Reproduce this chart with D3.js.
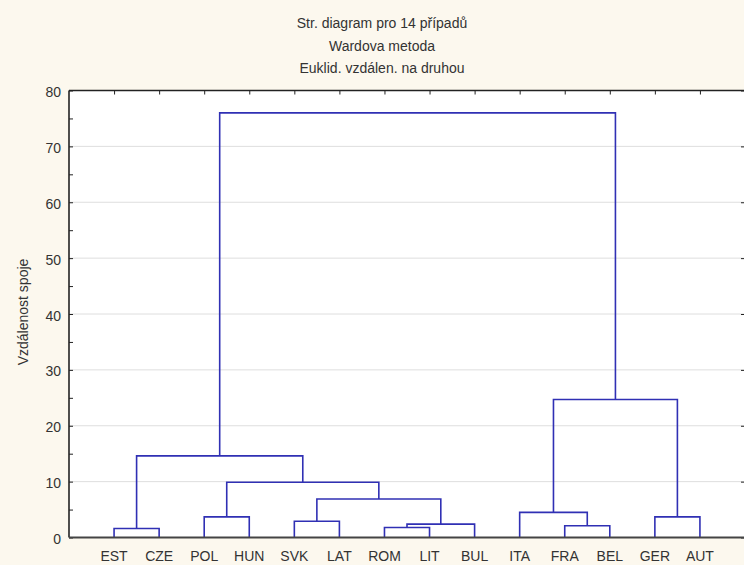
<!DOCTYPE html>
<html>
<head>
<meta charset="utf-8">
<script src="https://cdn.jsdelivr.net/npm/d3@7"></script>
<style>
  html, body { margin: 0; padding: 0; background: #fcf8ee; }
  svg { display: block; }
  text { font-family: "Liberation Sans", Arial, sans-serif; fill: #333; }
</style>
</head>
<body>
<svg id="chart" width="744" height="565"></svg>
<script>
// Leaves of the tree in drawing order
const leaves = ["EST", "CZE", "POL", "HUN", "SVK", "LAT", "ROM", "LIT", "BUL", "ITA", "FRA", "BEL", "GER", "AUT"];

// Agglomeration steps: ids 0..13 are leaves, step k creates cluster id 14 + k
const mergeLeft   = [0, 6, 10, 15, 4, 2, 12, 9, 18, 19, 14, 21, 24];
const mergeRight  = [1, 7, 11, 8, 5, 3, 13, 16, 17, 22, 23, 20, 25];
const mergeHeight = [1.6, 1.8, 2.1, 2.4, 2.9, 3.7, 3.7, 4.5, 6.9, 9.9, 14.6, 24.7, 76.0];

const yTicks = [0, 10, 20, 30, 40, 50, 60, 70, 80];
const yMinorTicks = [5, 15, 25, 35, 45, 55, 65, 75];

const titleLines = ["Str. diagram pro 14 případů", "Wardova metoda", "Euklid. vzdálen. na druhou"];
const yTitle = "Vzdálenost spoje";

const svg = d3.select("#chart");
const plotLeft = 69, plotRight = 745, plotTop = 90.5, plotBottom = 537.5;

const x = d3.scaleLinear().domain([0, leaves.length + 1]).range([plotLeft, plotRight]);
const y = d3.scaleLinear().domain([0, 80]).range([plotBottom, plotTop]);

// plot area
svg.append("rect")
  .attr("x", plotLeft).attr("y", plotTop)
  .attr("width", plotRight - plotLeft).attr("height", plotBottom - plotTop)
  .attr("fill", "#ffffff");

// horizontal grid
svg.append("g").selectAll("line")
  .data(yTicks.filter(d => d > 0 && d < 80))
  .join("line")
  .attr("x1", plotLeft).attr("x2", plotRight)
  .attr("y1", d => y(d)).attr("y2", d => y(d))
  .attr("stroke", "#dedede").attr("stroke-width", 1);

// cluster positions
const pos = leaves.map((d, i) => i + 1);
const hgt = leaves.map(() => 0);
const links = [];
mergeLeft.forEach((a, k) => {
  const b = mergeRight[k], h = mergeHeight[k];
  links.push({ a, b, h });
  pos.push((pos[a] + pos[b]) / 2);
  hgt.push(h);
});

svg.append("g").selectAll("path")
  .data(links)
  .join("path")
  .attr("d", d => `M${x(pos[d.a])},${y(hgt[d.a])}V${y(d.h)}H${x(pos[d.b])}V${y(hgt[d.b])}`)
  .attr("fill", "none")
  .attr("stroke", "#3030b4")
  .attr("stroke-width", 1.6);

// left axis
const yAxis = d3.axisRight(y).tickValues(yTicks.concat(yMinorTicks)).tickSize(4).tickFormat("");
const gy = svg.append("g").attr("transform", `translate(${plotLeft},0)`).call(yAxis);
gy.select(".domain").remove();
gy.selectAll(".tick line").attr("stroke", "#222").attr("stroke-width", 1);

svg.append("g").selectAll("text")
  .data(yTicks)
  .join("text")
  .attr("x", plotLeft - 8)
  .attr("y", d => y(d) + 6.5)
  .attr("text-anchor", "end")
  .attr("font-size", 14)
  .text(d => d);

// right axis ticks
const yAxisR = d3.axisLeft(y).tickValues(yTicks).tickSize(3).tickFormat("");
const gyr = svg.append("g").attr("transform", `translate(${plotRight - 1},0)`).call(yAxisR);
gyr.select(".domain").remove();
gyr.selectAll(".tick line").attr("stroke", "#222");

// top axis ticks at leaf positions
const xAxisTop = d3.axisBottom(x).tickValues(pos.slice(0, leaves.length)).tickSize(4).tickFormat("");
const gxt = svg.append("g").attr("transform", `translate(0,${plotTop})`).call(xAxisTop);
gxt.select(".domain").remove();
gxt.selectAll(".tick line").attr("stroke", "#222");

// frame
svg.append("line").attr("x1", plotLeft).attr("x2", plotRight).attr("y1", plotTop).attr("y2", plotTop)
  .attr("stroke", "#222").attr("stroke-width", 1.5);
svg.append("line").attr("x1", plotLeft).attr("x2", plotLeft).attr("y1", plotTop).attr("y2", plotBottom)
  .attr("stroke", "#222").attr("stroke-width", 1.6);
svg.append("line").attr("x1", plotLeft).attr("x2", plotRight).attr("y1", plotBottom).attr("y2", plotBottom)
  .attr("stroke", "#444").attr("stroke-width", 2);

// leaf labels
svg.append("g").selectAll("text")
  .data(leaves)
  .join("text")
  .attr("x", (d, i) => x(pos[i]))
  .attr("y", 561)
  .attr("text-anchor", "middle")
  .attr("font-size", 14)
  .text(d => d);

// title
svg.append("g").selectAll("text")
  .data(titleLines)
  .join("text")
  .attr("x", 382)
  .attr("y", (d, i) => 28 + i * 22.5)
  .attr("text-anchor", "middle")
  .attr("font-size", 14)
  .text(d => d);

// y axis title
svg.append("text")
  .attr("transform", `translate(28,312) rotate(-90)`)
  .attr("text-anchor", "middle")
  .attr("font-size", 14)
  .text(yTitle);
</script>
</body>
</html>
